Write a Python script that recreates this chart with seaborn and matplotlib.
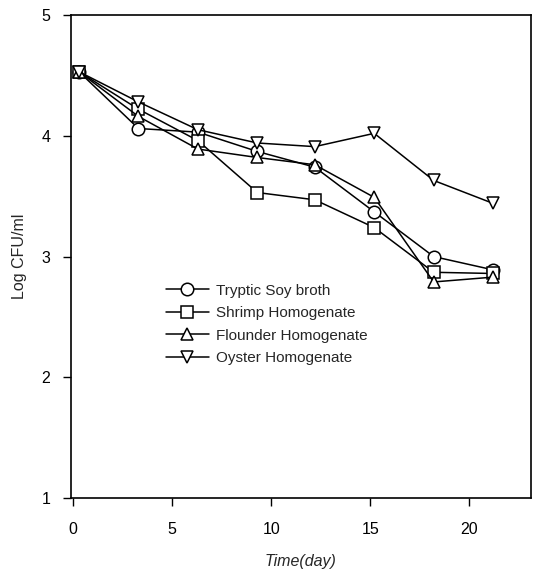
import matplotlib
matplotlib.use("Agg")
import matplotlib.pyplot as plt
import seaborn as sns
import pandas as pd

# Sampling days (points sit slightly right of the tick marks in the original)
days = [0.3, 3.3, 6.3, 9.3, 12.2, 15.2, 18.2, 21.2]

# Log CFU/ml per medium
tryptic = [4.53, 4.06, 4.03, 3.87, 3.74, 3.37, 3.00, 2.89]
shrimp = [4.53, 4.22, 3.96, 3.53, 3.47, 3.24, 2.87, 2.86]
flounder = [4.53, 4.16, 3.89, 3.82, 3.76, 3.49, 2.79, 2.83]
oyster = [4.53, 4.28, 4.05, 3.94, 3.91, 4.02, 3.63, 3.44]

series_names = ["Tryptic Soy broth", "Shrimp Homogenate",
                "Flounder Homogenate", "Oyster Homogenate"]
series_values = [tryptic, shrimp, flounder, oyster]
series_markers = ["o", "s", "^", "v"]

x_ticks = [0, 5, 10, 15, 20]
y_ticks = [1, 2, 3, 4, 5]

# Long-form table for seaborn
rows = []
for name, vals in zip(series_names, series_values):
    for d, v in zip(days, vals):
        rows.append({"day": d, "log_cfu": v, "medium": name})
df = pd.DataFrame(rows)

sns.set_theme(style="ticks")
plt.rcParams["font.family"] = ["Liberation Sans", "DejaVu Sans"]

fig = plt.figure(figsize=(5.34, 5.74), dpi=100)
ax = fig.add_axes([0.133, 0.132, 0.861, 0.842])

for name, marker in zip(series_names, series_markers):
    sub = df[df["medium"] == name]
    sns.lineplot(
        data=sub, x="day", y="log_cfu", ax=ax,
        color="black", linewidth=1.1,
        marker=marker, markersize=9 if marker != "s" else 8,
        markerfacecolor="white", markeredgecolor="black",
        markeredgewidth=1.1, label=name,
    )

ax.set_xlim(-0.1, 23.1)
ax.set_ylim(1, 5)
ax.set_xticks(x_ticks)
ax.set_yticks(y_ticks)
ax.tick_params(axis="both", direction="out", length=6, width=1,
               color="black", labelsize=11.5, labelcolor="black")
ax.tick_params(axis="x", pad=11)
ax.tick_params(axis="y", pad=9)
for side in ["left", "right", "top", "bottom"]:
    ax.spines[side].set_visible(True)
    ax.spines[side].set_color("black")
    ax.spines[side].set_linewidth(1.2)

ax.set_xlabel("Time(day)", fontsize=11.5, style="italic", labelpad=12)
ax.set_ylabel("Log CFU/ml", fontsize=11.5, labelpad=10)

ax.legend(loc="upper left", bbox_to_anchor=(0.19, 0.46), frameon=False,
          fontsize=11, handlelength=2.8, labelspacing=0.56,
          handletextpad=0.5, borderpad=0)

fig.savefig("out.png", dpi=100)
